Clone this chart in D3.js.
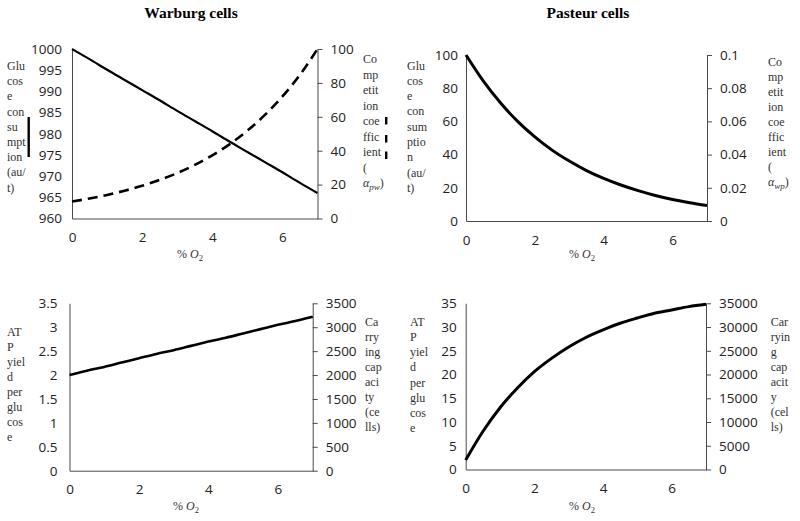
<!DOCTYPE html>
<html><head><meta charset="utf-8">
<script src="https://cdn.jsdelivr.net/npm/d3@7"></script>
<style>body{margin:0;background:#fff}</style>
</head><body><svg id="c" width="800" height="521" xmlns="http://www.w3.org/2000/svg"></svg>
<script>
// ---- data ----
const o2 = [0, 0.5, 1, 1.5, 2, 2.5, 3, 3.5, 4, 4.5, 5, 5.5, 6, 6.5, 7];
const xTickValues = [0, 2, 4, 6];

// Warburg cells
const warburgGlucose = [1000, 997.6, 995.1, 992.7, 990.3, 987.9, 985.4, 983.0, 980.6, 978.1, 975.7, 973.3, 970.9, 968.4, 966.0];
const warburgAlpha   = [10, 11.8, 13.9, 16.4, 19.3, 22.8, 26.8, 31.6, 37.3, 43.9, 51.8, 61.1, 72.0, 84.8, 100];
const warburgATP     = [2.00, 2.09, 2.17, 2.26, 2.35, 2.44, 2.52, 2.61, 2.70, 2.78, 2.87, 2.96, 3.05, 3.13, 3.22];

// Pasteur cells
const pasteurGlucose = [100, 84.4, 71.2, 60.0, 50.7, 42.7, 36.1, 30.4, 25.7, 21.7, 18.3, 15.4, 13.0, 11.0, 9.3];
const pasteurATP     = [2, 8.0, 13.0, 17.1, 20.6, 23.4, 25.8, 27.8, 29.4, 30.8, 31.9, 32.9, 33.6, 34.3, 34.8];

// tick labels
const glucoseTicksW = [960, 965, 970, 975, 980, 985, 990, 995, 1000];
const alphaTicksW   = [0, 20, 40, 60, 80, 100];
const glucoseTicksP = [0, 20, 40, 60, 80, 100];
const alphaTicksP   = [0, 0.02, 0.04, 0.06, 0.08, 0.1];
const atpTicksW     = [0, 0.5, 1, 1.5, 2, 2.5, 3, 3.5];
const capTicksW     = [0, 500, 1000, 1500, 2000, 2500, 3000, 3500];
const atpTicksP     = [0, 5, 10, 15, 20, 25, 30, 35];
const capTicksP     = [0, 5000, 10000, 15000, 20000, 25000, 30000, 35000];

// titles
const panelTitles = ["Warburg cells", "Pasteur cells"];
const glucoseTitleW = ["Glu", "cos", "e", "con", "su", "mpt", "ion", "(au/", "t)"];
const glucoseTitleP = ["Glu", "cos", "e", "con", "sum", "ptio", "n", "(au/", "t)"];
const alphaTitle    = ["Co", "mp", "etit", "ion", "coe", "ffic", "ient", "("];
const atpTitle      = ["AT", "P", "yiel", "d", "per", "glu", "cos", "e"];
const capTitleW     = ["Ca", "rry", "ing", "cap", "aci", "ty", "(ce", "lls)"];
const capTitleP     = ["Car", "ryin", "g", "cap", "acit", "y", "(cel", "ls)"];

// ---- drawing ----
const svg = d3.select("#c");
const TICKFONT = "'Open Sans', 'Noto Sans', sans-serif";
const SERIF = "'Liberation Serif', 'Times New Roman', serif";
const AXC = "#4a4a4a";

function styleAxis(g) {
  g.select(".domain").attr("stroke", AXC).attr("stroke-width", 1);
  g.selectAll(".tick line").attr("stroke", AXC);
  g.selectAll("text").attr("font-family", TICKFONT).attr("font-size", 13.5).attr("fill", "#222");
}

function wrapTitle(lines, x, y0, step, sub) {
  const t = svg.append("text").attr("font-family", SERIF).attr("font-size", 12)
    .attr("fill", "#333");
  lines.forEach((s, i) => {
    t.append("tspan").attr("x", x).attr("y", y0 + i * step).text(s);
  });
  if (sub) {
    const y = y0 + lines.length * step;
    const tt = svg.append("text").attr("font-family", SERIF).attr("font-size", 12).attr("fill", "#333")
      .attr("x", x).attr("y", y);
    tt.append("tspan").attr("font-style", "italic").text("α");
    tt.append("tspan").attr("font-style", "italic").attr("font-size", 9).attr("dy", 3).text(sub);
    tt.append("tspan").attr("dy", -3).text(")");
  }
}

function xLabel(cx, y) {
  const t = svg.append("text").attr("font-family", SERIF).attr("font-size", 12)
    .attr("fill", "#333").attr("x", cx).attr("y", y).attr("text-anchor", "middle");
  t.append("tspan").text("% ");
  t.append("tspan").attr("font-style", "italic").text("O");
  t.append("tspan").attr("font-size", 8.5).attr("dy", 3).text("2");
}

function panel(c) {
  const x = d3.scaleLinear().domain([0, 7]).range([c.x0, c.x1]);
  const yL = d3.scaleLinear().domain(d3.extent(c.leftTicks)).range([c.yBot, c.yTop]);
  const yR = d3.scaleLinear().domain(d3.extent(c.rightTicks)).range([c.yBot, c.yTop]);

  svg.append("g").attr("transform", `translate(0,${c.yBot})`)
    .call(d3.axisBottom(x).tickValues(xTickValues).tickSize(0).tickPadding(c.xPad).tickFormat(d => String(d)))
    .call(styleAxis);
  svg.append("g").attr("transform", `translate(${c.x0},0)`)
    .call(d3.axisLeft(yL).tickValues(c.leftTicks).tickSize(0).tickPadding(c.lPad).tickFormat(d => String(d)))
    .call(styleAxis);
  svg.append("g").attr("transform", `translate(${c.x1},0)`)
    .call(d3.axisRight(yR).tickValues(c.rightTicks).tickSize(5).tickSizeOuter(0).tickPadding(8).tickFormat(d => String(d)))
    .call(styleAxis);

  c.series.forEach(s => {
    const y = s.axis === "right" ? yR : yL;
    const line = d3.line().x((d, i) => x(o2[i])).y(d => y(d)).curve(d3.curveMonotoneX);
    svg.append("path").datum(s.values).attr("d", line)
      .attr("fill", "none").attr("stroke", "#000").attr("stroke-width", s.width)
      .attr("stroke-dasharray", s.dash || null);
  });
}

// titles
svg.append("text").attr("x", 191).attr("y", 18).attr("text-anchor", "middle")
  .attr("font-family", SERIF).attr("font-weight", "bold").attr("font-size", 15.5).text(panelTitles[0]);
svg.append("text").attr("x", 588).attr("y", 18).attr("text-anchor", "middle")
  .attr("font-family", SERIF).attr("font-weight", "bold").attr("font-size", 15.5).text(panelTitles[1]);

// Panel 1: Warburg glucose / alpha
panel({x0: 72, x1: 317.5, yTop: 49, yBot: 218.5, xPad: 14, lPad: 10,
  leftTicks: glucoseTicksW, rightTicks: alphaTicksW,
  series: [{values: warburgGlucose, axis: "left", width: 2.2},
           {values: warburgAlpha, axis: "right", width: 2.6, dash: "10,6"}]});
wrapTitle(glucoseTitleW, 7, 70, 15.2);
wrapTitle(alphaTitle, 363, 63, 15.5, "pw");
xLabel(190, 258);
// artifact bars from original layout
svg.append("rect").attr("x", 27.5).attr("y", 117).attr("width", 2.4).attr("height", 40).attr("fill", "#000");
[117, 135, 151.5].forEach(y => svg.append("rect").attr("x", 385).attr("y", y).attr("width", 2.4).attr("height", 7.5).attr("fill", "#000"));

// Panel 2: Pasteur glucose / alpha
panel({x0: 466, x1: 707, yTop: 55, yBot: 221, xPad: 14, lPad: 8,
  leftTicks: glucoseTicksP, rightTicks: alphaTicksP,
  series: [{values: pasteurGlucose, axis: "left", width: 3}]});
wrapTitle(glucoseTitleP, 407, 69.5, 15.3);
wrapTitle(alphaTitle, 768, 66, 15, "wp");
xLabel(582, 258);

// Panel 3: Warburg ATP / capacity
panel({x0: 69.5, x1: 312.7, yTop: 303.3, yBot: 470.7, xPad: 14, lPad: 12,
  leftTicks: atpTicksW, rightTicks: capTicksW,
  series: [{values: warburgATP, axis: "left", width: 2.6}]});
wrapTitle(atpTitle, 7, 335.7, 15.1);
wrapTitle(capTitleW, 365, 325.7, 15);
xLabel(186, 510);

// Panel 4: Pasteur ATP / capacity
panel({x0: 465.7, x1: 706, yTop: 303.3, yBot: 469.5, xPad: 14, lPad: 9,
  leftTicks: atpTicksP, rightTicks: capTicksP,
  series: [{values: pasteurATP, axis: "left", width: 3}]});
wrapTitle(atpTitle, 410, 325.7, 15.2);
wrapTitle(capTitleP, 770.7, 325.7, 15);
xLabel(582, 510);
</script>
</body></html>
